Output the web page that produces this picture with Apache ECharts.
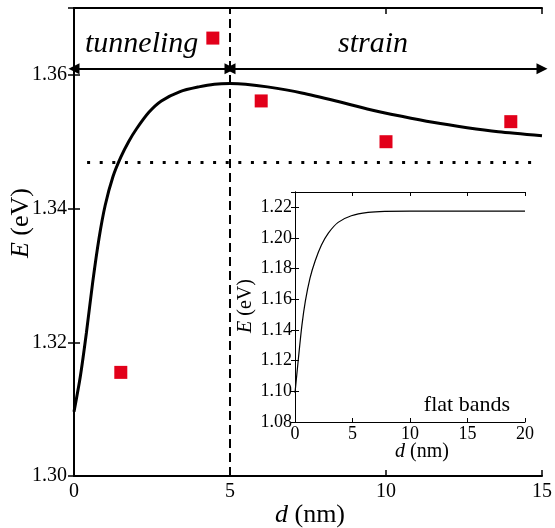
<!DOCTYPE html>
<html>
<head>
<meta charset="utf-8">
<script src="https://cdn.jsdelivr.net/npm/echarts@6/dist/echarts.min.js"></script>
<style>
  html, body { margin: 0; padding: 0; background: #fff; }
  #chart { width: 555px; height: 528px; }
</style>
</head>
<body>
<div id="chart"></div>
<script>
// main curve E(d)
const mainD = [0, 0.2, 0.4, 0.6, 0.8, 1.0, 1.25, 1.5, 1.75, 2.0, 2.4, 2.8, 3.4, 4.0, 4.5, 5.0, 5.5, 6.2, 7.3, 8.4, 9.4, 10.5, 11.5, 12.6, 13.6, 15]
const mainE = [1.3096, 1.3148, 1.3215, 1.3290, 1.3355, 1.3405, 1.3448, 1.3477, 1.3500, 1.3519, 1.3544, 1.3561, 1.3575, 1.3582, 1.3586, 1.3587, 1.3586, 1.3582, 1.3573, 1.3561, 1.3549, 1.3538, 1.3529, 1.3521, 1.3515, 1.3509]
// measured points
const pointD = [1.5, 4.45, 6, 10, 14]
const pointE = [1.3155, 1.3655, 1.3561, 1.350, 1.353]
// inset: flat bands
const insetD = [0, 0.3, 0.6, 0.9, 1.3, 1.75, 2.3, 2.9, 3.75, 4.9, 6.35, 7.8, 10, 15, 20]
const insetE = [1.099, 1.1217, 1.1430, 1.1588, 1.1737, 1.1850, 1.1954, 1.2032, 1.2102, 1.2145, 1.2167, 1.2174, 1.2175, 1.2175, 1.2175]
// reference lines
const splitD = 5
const flatE = 1.347
const arrowE = 1.3609
const regionNames = ['tunneling', 'strain']

const serif = 'Liberation Serif'
const red = '#e2001a'

function zip(a, b) {
  return a.map((v, i) => [v, b[i]])
}

const chart = echarts.init(document.getElementById('chart'))

const mainAxisLine = { lineStyle: { color: '#000', width: 2 } }
const insetAxisLine = { lineStyle: { color: '#000', width: 1 } }
const mainTick = { inside: true, length: 6, lineStyle: { color: '#000', width: 1.5 } }
const insetTick = { inside: true, length: 4, lineStyle: { color: '#000' } }

function fonts(size) {
  return {
    i: { fontStyle: 'italic', fontFamily: serif, fontSize: size, color: '#000' },
    n: { fontFamily: serif, fontSize: size, color: '#000' }
  }
}

// text drawn as rich segments so every piece gets the serif face
function label(text, x, y, size, align, rotation) {
  return {
    type: 'text', x: x, y: y, rotation: rotation || 0,
    style: {
      text: text,
      fontFamily: serif,
      fontSize: size,
      fill: '#000',
      align: align || 'center',
      verticalAlign: 'middle',
      rich: fonts(size)
    }
  }
}

function tickLabel(size, margin, digits) {
  return {
    color: '#000', fontFamily: serif, fontSize: size, margin: margin, showMaxLabel: false,
    formatter: v => '{n|' + (digits ? v.toFixed(digits) : v) + '}',
    rich: fonts(size)
  }
}

chart.setOption({
  animation: false,
  grid: [
    { left: 74, top: 8, right: 12, bottom: 52 },
    { left: 295, top: 192, width: 230, height: 230, show: true, backgroundColor: '#fff', borderWidth: 0 }
  ],
  xAxis: [
    {
      gridIndex: 0, type: 'value', min: 0, max: 15, interval: 5,
      axisLine: mainAxisLine, axisTick: mainTick,
      axisLabel: Object.assign(tickLabel(20, 6, 0), { showMaxLabel: true }),
      splitLine: { show: false }
    },
    {
      gridIndex: 0, type: 'value', min: 0, max: 15, interval: 5, position: 'top',
      axisLine: mainAxisLine, axisTick: mainTick,
      axisLabel: { show: false },
      splitLine: { show: false }
    },
    {
      gridIndex: 1, type: 'value', min: 0, max: 20, interval: 5,
      axisLine: insetAxisLine, axisTick: insetTick,
      axisLabel: Object.assign(tickLabel(18, 3, 0), { showMaxLabel: true }),
      splitLine: { show: false }
    },
    {
      gridIndex: 1, type: 'value', min: 0, max: 20, interval: 5, position: 'top',
      axisLine: insetAxisLine, axisTick: insetTick,
      axisLabel: { show: false },
      splitLine: { show: false }
    }
  ],
  yAxis: [
    {
      gridIndex: 0, type: 'value', min: 1.30, max: 1.37, interval: 0.02,
      axisLine: mainAxisLine, axisTick: mainTick,
      axisLabel: tickLabel(20, 7, 2),
      splitLine: { show: false }
    },
    {
      gridIndex: 0, type: 'value', min: 1.30, max: 1.37, interval: 0.02, position: 'right',
      axisLine: mainAxisLine, axisTick: mainTick,
      axisLabel: { show: false },
      splitLine: { show: false }
    },
    {
      gridIndex: 1, type: 'value', min: 1.08, max: 1.23, interval: 0.02,
      axisLine: insetAxisLine, axisTick: insetTick,
      axisLabel: tickLabel(18, 3, 2),
      splitLine: { show: false }
    },
    {
      gridIndex: 1, type: 'value', min: 1.08, max: 1.23, interval: 0.02, position: 'right',
      axisLine: insetAxisLine, axisTick: insetTick,
      axisLabel: { show: false },
      splitLine: { show: false }
    }
  ],
  series: [
    {
      type: 'line',
      xAxisIndex: 0, yAxisIndex: 0,
      data: zip(mainD, mainE),
      smooth: 0.25,
      showSymbol: false,
      lineStyle: { color: '#000', width: 3 },
      markLine: {
        silent: true,
        animation: false,
        label: { show: false },
        data: [
          [
            { coord: [0, arrowE], symbol: 'triangle' },
            { coord: [splitD, arrowE], symbol: 'triangle' }
          ],
          [
            { coord: [splitD, arrowE], symbol: 'triangle' },
            { coord: [15, arrowE], symbol: 'triangle' }
          ]
        ],
        symbolSize: [11, 11],
        lineStyle: { color: '#000', width: 2, type: 'solid' }
      }
    },
    {
      type: 'line',
      xAxisIndex: 0, yAxisIndex: 0,
      data: [],
      markLine: {
        silent: true,
        animation: false,
        symbol: 'none',
        label: { show: false },
        data: [{ xAxis: splitD }],
        lineStyle: { color: '#000', width: 2, type: [9, 5] }
      }
    },
    {
      type: 'line',
      xAxisIndex: 0, yAxisIndex: 0,
      data: [],
      markLine: {
        silent: true,
        animation: false,
        symbol: 'none',
        label: { show: false },
        data: [[{ coord: [0.42, flatE] }, { coord: [14.7, flatE] }]],
        lineStyle: { color: '#000', width: 3, type: [3, 9.6], cap: 'butt' }
      }
    },
    {
      type: 'scatter',
      xAxisIndex: 0, yAxisIndex: 0,
      data: zip(pointD, pointE),
      symbol: 'rect',
      symbolSize: 13,
      itemStyle: { color: red, opacity: 1 }
    },
    {
      type: 'line',
      xAxisIndex: 2, yAxisIndex: 2,
      data: zip(insetD, insetE),
      smooth: 0.25,
      showSymbol: false,
      lineStyle: { color: '#000', width: 1.2 }
    }
  ],
  graphic: [
    label('{i|' + regionNames[0] + '}', 85, 44, 30, 'left'),
    label('{i|' + regionNames[1] + '}', 338, 44, 30, 'left'),
    label('{i|d}{n| (nm)}', 310, 515, 26),
    label('{i|E}{n| (eV)}', 21, 223, 26, 'center', Math.PI / 2),
    label('{n|flat bands}', 510, 405, 22, 'right'),
    label('{i|d}{n| (nm)}', 422, 452, 20),
    label('{i|E}{n| (eV)}', 246, 306, 20, 'center', Math.PI / 2)
  ]
})
</script>
</body>
</html>
